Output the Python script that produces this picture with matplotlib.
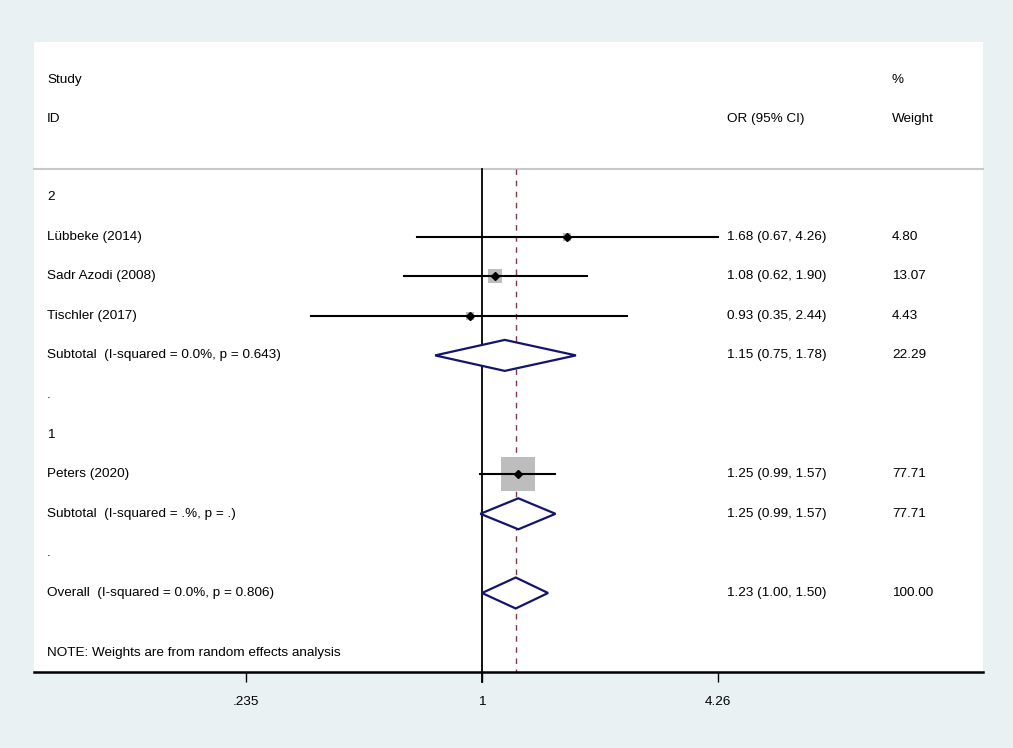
import numpy as np
import matplotlib.pyplot as plt
from matplotlib.transforms import blended_transform_factory

plt.rcParams['font.family'] = ['Liberation Sans', 'DejaVu Sans']

# study data
studies = ["Lübbeke (2014)", "Sadr Azodi (2008)", "Tischler (2017)", "Peters (2020)"]
est = [1.68, 1.08, 0.93, 1.25]
lo = [0.67, 0.62, 0.35, 0.99]
hi = [4.26, 1.90, 2.44, 1.57]
wt = [4.80, 13.07, 4.43, 77.71]
study_rows = [1, 2, 3, 7]

# pooled estimates
pool_labels = ["Subtotal  (I-squared = 0.0%, p = 0.643)",
               "Subtotal  (I-squared = .%, p = .)",
               "Overall  (I-squared = 0.0%, p = 0.806)"]
pool_est = [1.15, 1.25, 1.23]
pool_lo = [0.75, 0.99, 1.00]
pool_hi = [1.78, 1.57, 1.50]
pool_wt = [22.29, 77.71, 100.00]
pool_rows = [4, 8, 10]

group_labels = ["2", ".", "1", "."]
group_rows = [0, 5, 6, 9]

xticks = [0.235, 1, 4.26]
xticklabels = [".235", "1", "4.26"]

bg = '#eaf1f3'
fs = 9.7

fig = plt.figure(figsize=(10.13, 7.48), dpi=100, facecolor=bg)
W, H = 1013, 748
# white plot region in pixels
left, right, top, bot = 34, 983, 42, 672
ax = fig.add_axes([left / W, 1 - bot / H, (right - left) / W, (bot - top) / H])
ax.set_facecolor('white')

# x scale: log, 1 at px 482, 162.9 px per ln unit
ppl = 162.9
ax.set_xscale('log')
ax.set_xlim(np.exp((left - 482) / ppl), np.exp((right - 482) / ppl))

# y in row units: row r at px 197 + 39.6 r
y0, step = 197, 39.6
def py(px):
    return (px - y0) / step
ax.set_ylim(py(bot), py(top))

trans = blended_transform_factory(ax.transAxes, ax.transData)
tx_l, tx_or, tx_w = (47 - left) / (right - left), (727 - left) / (right - left), (892 - left) / (right - left)

# header
ax.text(tx_l, -2.95, "Study", transform=trans, fontsize=fs, va='center')
ax.text(tx_l, -1.98, "ID", transform=trans, fontsize=fs, va='center')
ax.text(tx_or, -1.98, "OR (95% CI)", transform=trans, fontsize=fs, va='center')
ax.text(tx_w, -2.95, "%", transform=trans, fontsize=fs, va='center')
ax.text(tx_w, -1.98, "Weight", transform=trans, fontsize=fs, va='center')
sep = py(169)
ax.plot([0, 1], [sep, sep], transform=trans, color='#c8c8c8', lw=1.5, clip_on=False)

# reference lines
ax.plot([1, 1], [sep, py(682)], color='black', lw=1.3, clip_on=False, zorder=2)
ax.plot([pool_est[2], pool_est[2]], [sep, py(bot)], color='#7d3b47', lw=1.0,
        ls=(0, (4, 4)), zorder=2)

for lab, r in zip(group_labels, group_rows):
    ax.text(tx_l, r, lab, transform=trans, fontsize=fs, va='center')

# studies
for name, e, l, h, w, r in zip(studies, est, lo, hi, wt, study_rows):
    ax.scatter([e], [r], marker='s', s=8.17 * w, color='#bdbdbd', zorder=3, linewidths=0)
    ax.plot([l, h], [r, r], color='black', lw=1.5, zorder=4)
    ax.plot([e], [r], marker='D', ms=4.0, color='black', zorder=5)
    ax.text(tx_l, r, name, transform=trans, fontsize=fs, va='center')
    ax.text(tx_or, r, f"{e:.2f} ({l:.2f}, {h:.2f})", transform=trans, fontsize=fs, va='center')
    ax.text(tx_w, r, f"{w:.2f}", transform=trans, fontsize=fs, va='center')

# pooled diamonds
dh = 15.5 / step
for lab, e, l, h, w, r in zip(pool_labels, pool_est, pool_lo, pool_hi, pool_wt, pool_rows):
    ax.fill([l, e, h, e, l], [r, r - dh, r, r + dh, r], facecolor='white',
            edgecolor='#14146e', lw=1.6, zorder=4)
    ax.text(tx_l, r, lab, transform=trans, fontsize=fs, va='center')
    ax.text(tx_or, r, f"{e:.2f} ({l:.2f}, {h:.2f})", transform=trans, fontsize=fs, va='center')
    ax.text(tx_w, r, f"{w:.2f}", transform=trans, fontsize=fs, va='center')

ax.text(tx_l, py(653), "NOTE: Weights are from random effects analysis", transform=trans,
        fontsize=fs, va='center')

# axes styling
for s in ['top', 'left', 'right']:
    ax.spines[s].set_visible(False)
ax.spines['bottom'].set_linewidth(1.8)
ax.set_yticks([])
ax.set_xticks(xticks)
ax.set_xticklabels(xticklabels)
ax.xaxis.set_minor_locator(plt.NullLocator())
ax.tick_params(axis='x', direction='out', length=7, width=1.0, labelsize=fs, pad=10)

fig.savefig('out.png', dpi=100, facecolor=bg)
